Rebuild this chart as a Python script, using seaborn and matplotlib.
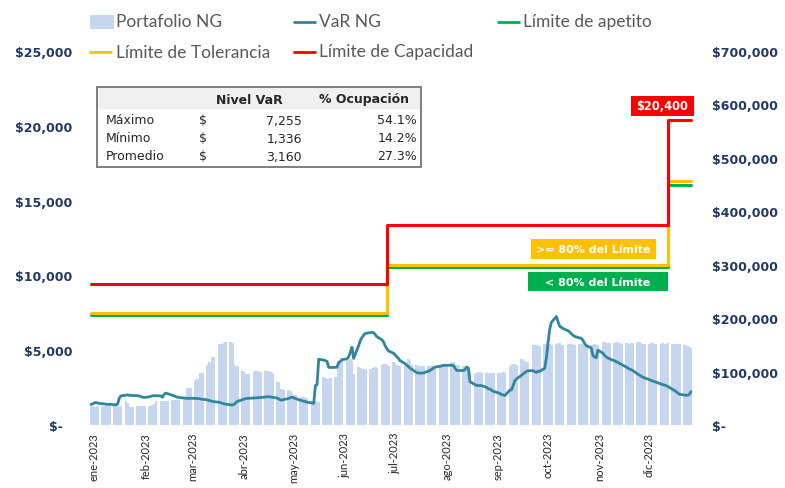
import numpy as np
import pandas as pd
import matplotlib
matplotlib.use('Agg')
import matplotlib.pyplot as plt
import matplotlib.dates as mdates
import matplotlib.ticker as mticker
from matplotlib.patches import Rectangle
from matplotlib.lines import Line2D
from matplotlib.transforms import ScaledTranslation
import seaborn as sns

sns.set_style('white')
plt.rcParams['font.family'] = ['DejaVu Sans']

# ─── data ────────────────────────────────────────────────────────────────
dias = pd.bdate_range('2023-01-02', '2023-12-29')

# Portafolio NG (eje derecho), un renglon por semana
portafolio_ng = [
    35000, 35000, 34000, 34000, 35000,
    35000, 35500, 35500, 35000, 35000,
    35000, 35000, 35000, 34500, 35000,
    44000, 41000, 34000, 34000, 34000,
    35500, 35500, 35000, 35500, 35500,
    36000, 36000, 37000, 40000, 44000,
    44000, 44000, 44000, 44500, 44500,
    46500, 47000, 47000, 46500, 47000,
    48000, 50000, 69000, 69000, 69000,
    85000, 86000, 86000, 97000, 97000,
    112000, 117000, 117000, 127000, 127000,
    152000, 152000, 152000, 153000, 156000,
    156000, 154000, 113000, 111000, 110000,
    102000, 100000, 96000, 96000, 96000,
    100000, 101000, 101000, 100000, 100000,
    102000, 101000, 102000, 100000, 98000,
    81000, 80000, 68000, 67000, 66000,
    65000, 64000, 60000, 57000, 56000,
    53000, 52000, 52000, 51000, 50000,
    45000, 44000, 44000, 43000, 43000,
    90000, 88000, 86000, 86000, 88000,
    89000, 90000, 115000, 118000, 120000,
    120000, 121000, 123000, 120000, 95000,
    108000, 106000, 105000, 105000, 104000,
    104000, 102000, 106000, 108000, 106000,
    112000, 114000, 114000, 112000, 111000,
    117000, 114000, 112000, 110000, 110000,
    110000, 112000, 124000, 120000, 112000,
    112000, 111000, 110000, 110000, 110000,
    111000, 111000, 111000, 110000, 111000,
    112000, 112000, 112000, 111000, 112000,
    117000, 117000, 112000, 112000, 112000,
    110000, 105000, 103000, 102000, 102000,
    96000, 97000, 100000, 100000, 97000,
    98000, 98000, 97000, 97000, 97000,
    97000, 97000, 98000, 100000, 98000,
    108000, 112000, 114000, 114000, 112000,
    123000, 121000, 120000, 118000, 118000,
    150000, 150000, 149000, 148000, 148000,
    151000, 152000, 152000, 151000, 150000,
    152000, 153000, 154000, 150000, 149000,
    150000, 151000, 151000, 150000, 150000,
    151000, 152000, 151000, 151000, 152000,
    150000, 150000, 151000, 150000, 150000,
    155000, 155000, 154000, 153000, 153000,
    154000, 155000, 154000, 153000, 152000,
    153000, 153000, 152000, 153000, 153000,
    155000, 155000, 153000, 152000, 151000,
    152000, 153000, 153000, 152000, 152000,
    152000, 153000, 152000, 152000, 153000,
    151000, 152000, 152000, 151000, 151000,
    150000, 149000, 148000, 146000, 144000,
]

# VaR NG (eje izquierdo)
var_ng = [
    1380, 1420, 1480, 1500, 1460,
    1420, 1400, 1390, 1380, 1380,
    1360, 1350, 1400, 1800, 1950,
    2000, 2010, 1990, 1980, 1970,
    1960, 1940, 1900, 1860, 1840,
    1880, 1920, 1950, 1960, 1960,
    1940, 1860, 2050, 2130, 2100,
    1980, 1950, 1900, 1860, 1830,
    1810, 1790, 1780, 1780, 1790,
    1780, 1770, 1760, 1740, 1720,
    1680, 1640, 1610, 1580, 1560,
    1520, 1490, 1450, 1420, 1390,
    1350, 1336, 1380, 1480, 1580,
    1680, 1730, 1770, 1780, 1790,
    1800, 1810, 1820, 1830, 1840,
    1870, 1890, 1890, 1880, 1850,
    1800, 1740, 1680, 1660, 1700,
    1780, 1830, 1850, 1820, 1770,
    1650, 1620, 1590, 1560, 1530,
    1470, 1450, 2630, 2700, 4400,
    4340, 4300, 4250, 3860, 3840,
    3850, 3860, 4190, 4250, 4370,
    4420, 4550, 4860, 5200, 4450,
    5300, 5650, 5850, 6000, 6120,
    6170, 6190, 6170, 6050, 5900,
    5700, 5550, 5300, 5100, 4950,
    4800, 4700, 4550, 4450, 4300,
    4100, 4000, 3900, 3800, 3720,
    3500, 3480, 3470, 3470, 3480,
    3600, 3650, 3720, 3800, 3870,
    3920, 3960, 3990, 3990, 3990,
    3990, 4000, 3800, 3650, 3640,
    3640, 3700, 3870, 3800, 2900,
    2700, 2650, 2640, 2640, 2630,
    2520, 2420, 2400, 2330, 2250,
    2150, 2100, 2050, 2000, 1970,
    2330, 2350, 2650, 2960, 3080,
    3320, 3420, 3500, 3580, 3630,
    3630, 3560, 3520, 3600, 3580,
    3800, 4500, 5500, 6400, 6860,
    7255, 6900, 6600, 6530, 6450,
    6300, 6220, 6100, 6000, 5920,
    5820, 5800, 5650, 5450, 5300,
    5150, 4650, 4550, 4500, 5000,
    4800, 4650, 4550, 4480, 4420,
    4300, 4230, 4180, 4120, 4060,
    3880, 3800, 3740, 3700, 3640,
    3400, 3330, 3260, 3200, 3150,
    3030, 2980, 2940, 2900, 2860,
    2740, 2700, 2670, 2630, 2580,
    2380, 2320, 2240, 2150, 2060,
    2000, 1990, 1990, 2050, 2230,
]

cambios_limite = pd.to_datetime(['2023-01-02', '2023-06-29', '2023-12-15', '2023-12-29'])
limite_apetito = [7350, 10550, 16050, 16050]
limite_tolerancia = [7520, 10720, 16320, 16320]
limite_capacidad = [9400, 13400, 20400, 20400]

meses = ['ene', 'feb', 'mar', 'abr', 'may', 'jun',
         'jul', 'ago', 'sep', 'oct', 'nov', 'dic']

resumen_filas = ['Máximo', 'Mínimo', 'Promedio']
resumen_var = [7255, 1336, 3160]
resumen_ocupacion = [54.1, 14.2, 27.3]

# ─── style ───────────────────────────────────────────────────────────────
BAR = '#c6d6ee'; TEAL = '#31859c'; GREEN = '#00b050'; YELLOW = '#ffc000'
RED = '#ff0000'; NAVY = '#1f3864'; GRAY = '#595959'
W, H = 785, 489

def fx(x): return x / W
def fy(y): return 1 - y / H

fig = plt.figure(figsize=(W / 100, H / 100), dpi=100)
fig.patch.set_facecolor('white')
ax = fig.add_axes([fx(88), fy(426), (695 - 88) / W, (426 - 52) / H])
ax2 = ax.twinx()
ax.yaxis.tick_right()
ax2.yaxis.tick_left()

# bars -> right axis
ax.bar(dias, portafolio_ng, width=1.6, color=BAR, linewidth=0)
ax.set_ylim(0, 700000)
ax.set_xlim(pd.Timestamp('2022-12-31 04:00'), pd.Timestamp('2023-12-31 10:00'))

# lines -> left axis
sns.lineplot(x=cambios_limite, y=limite_apetito, ax=ax2, color=GREEN, lw=2.2,
             drawstyle='steps-post', legend=False)
sns.lineplot(x=cambios_limite, y=limite_tolerancia, ax=ax2, color=YELLOW, lw=2.2,
             drawstyle='steps-post', legend=False)
sns.lineplot(x=cambios_limite, y=limite_capacidad, ax=ax2, color=RED, lw=2.2,
             drawstyle='steps-post', legend=False)
sns.lineplot(x=dias, y=var_ng, ax=ax2, color=TEAL, lw=2.0, legend=False)
ax2.set_ylim(0, 25000)
ax2.set_xlim(ax.get_xlim())

def money(v, p):
    return '$-  ' if v == 0 else f'${v:,.0f}'

ax2.yaxis.set_major_locator(mticker.MultipleLocator(5000))
ax2.yaxis.set_major_formatter(mticker.FuncFormatter(money))
ax.yaxis.set_major_locator(mticker.MultipleLocator(100000))
ax.yaxis.set_major_formatter(mticker.FuncFormatter(lambda v, p: '$-' if v == 0 else f'${v:,.0f}'))
for a in (ax, ax2):
    for sp in a.spines.values():
        sp.set_visible(False)
    a.set_xlabel(''); a.set_ylabel('')
ax2.tick_params(axis='y', length=0, pad=11.5, labelsize=9, labelcolor=NAVY)
ax.tick_params(axis='y', length=0, pad=12, labelsize=9, labelcolor=NAVY)
for lab in ax.get_yticklabels() + ax2.get_yticklabels():
    lab.set_fontweight('bold')

ax.xaxis.set_major_locator(mdates.MonthLocator())
ax.xaxis.set_major_formatter(mticker.FuncFormatter(
    lambda v, p: f"{meses[mdates.num2date(v).month - 1]}-{mdates.num2date(v).year}"))
ax.tick_params(axis='x', length=0, pad=5, labelsize=8, labelcolor='#262626',
               rotation=90)
shift = ScaledTranslation(0.05, 0, fig.dpi_scale_trans)
for lab in ax.get_xticklabels():
    lab.set_fontfamily('Lato')
    lab.set_transform(lab.get_transform() + shift)

# ─── legend (laid out like the Excel one, two rows) ──────────────────────
leg_font = dict(family='Lato', fontsize=12.5, color=GRAY, ha='left', va='center')

def clave_linea(x0, x1, y, color):
    fig.add_artist(Line2D([fx(x0), fx(x1)], [fy(y), fy(y)], transform=fig.transFigure,
                          color=color, lw=2.0, solid_capstyle='butt'))

fig.add_artist(Rectangle((fx(90), fy(29.5)), 24 / W, 13 / H, transform=fig.transFigure,
                         facecolor=BAR, edgecolor='none'))
fig.text(fx(116), fy(22), 'Portafolio NG', **leg_font)
clave_linea(293, 316, 22.5, TEAL)
fig.text(fx(319), fy(22), 'VaR NG', **leg_font)
clave_linea(497, 520, 22.5, GREEN)
fig.text(fx(523), fy(22), 'Límite de apetito', **leg_font)
clave_linea(89, 112, 53, YELLOW)
fig.text(fx(116), fy(52.5), 'Límite de Tolerancia', **leg_font)
clave_linea(293, 316, 53, RED)
fig.text(fx(319), fy(52.5), 'Límite de Capacidad', **leg_font)

# ─── summary table ───────────────────────────────────────────────────────
fig.add_artist(Rectangle((fx(97), fy(110)), (421 - 97) / W, 22 / H,
                         transform=fig.transFigure, facecolor='#f0f0f0',
                         edgecolor='none', zorder=5))
fig.add_artist(Rectangle((fx(97), fy(168)), (421 - 97) / W, (168 - 88) / H,
                         transform=fig.transFigure, facecolor='none',
                         edgecolor='#7f7f7f', lw=1.4, zorder=6))
fig.text(fx(249), fy(100), 'Nivel VaR', ha='center', va='center',
         fontsize=9, fontweight='bold', color='#262626', zorder=7)
fig.text(fx(364), fy(100), '% Ocupación', ha='center', va='center',
         fontsize=9, fontweight='bold', color='#262626', zorder=7)
for i, (fila, v, o) in enumerate(zip(resumen_filas, resumen_var, resumen_ocupacion)):
    yy = fy(121 + 18 * i)
    fig.text(fx(106), yy, fila, ha='left', va='center', fontsize=9, color='#262626')
    fig.text(fx(199), yy, '$', ha='left', va='center', fontsize=9, color='#262626')
    fig.text(fx(302), yy, f'{v:,.0f}', ha='right', va='center', fontsize=9, color='#262626')
    fig.text(fx(417), yy, f'{o:.1f}%', ha='right', va='center', fontsize=9, color='#262626')

# ─── label boxes ─────────────────────────────────────────────────────────
def caja(x0, y0, x1, y1, color, txt, size):
    fig.add_artist(Rectangle((fx(x0), fy(y1)), (x1 - x0) / W, (y1 - y0) / H,
                             transform=fig.transFigure, facecolor=color,
                             edgecolor='none', zorder=5))
    fig.text(fx((x0 + x1) / 2), fy((y0 + y1) / 2), txt, ha='center', va='center',
             fontsize=size, fontweight='bold', color='white', zorder=6)

caja(631, 97, 694, 117, RED, f'${limite_capacidad[-1]:,.0f}', 8.3)
caja(531, 240, 656, 260, YELLOW, '>= 80% del Límite', 8)
caja(528, 273, 668, 292, GREEN, '< 80% del Límite', 8)

plt.savefig('out.png', dpi=100, facecolor='white')
